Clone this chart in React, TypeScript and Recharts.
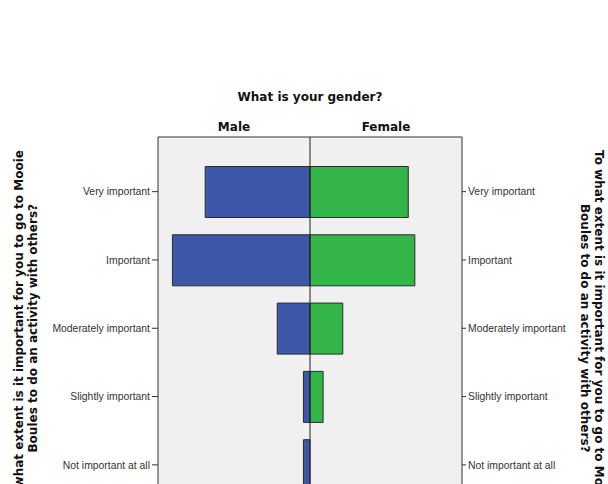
import React from 'react';
import { BarChart, Bar, XAxis, YAxis, ReferenceLine, CartesianGrid } from 'recharts';

const categories = [
  'Very important',
  'Important',
  'Moderately important',
  'Slightly important',
  'Not important at all',
];
const maleCounts = [16, 21, 5, 1, 1];
const femaleCounts = [15, 16, 5, 2, 0];
const genders = ['Male', 'Female'];
const chartTitle = 'What is your gender?';
const axisTitleLines = [
  'To what extent is it important for you to go to Mooie',
  'Boules to do an activity with others?',
];
const countAxisMax = 23.2;

const data = categories.map((name, i) => ({
  name,
  male: -maleCounts[i],
  female: femaleCounts[i],
}));

const boldFont = { fontFamily: 'DejaVu Sans', fontWeight: 700, fontSize: 12, fill: '#111' };
const tickFont = { fontFamily: 'Liberation Sans', fontSize: 10.4, fill: '#333' };

const LeftTitle = (props: any) => {
  const vb = props.viewBox || {};
  const cy = vb.y + vb.height / 2;
  const x1 = vb.x + 23;
  const x2 = vb.x + 37;
  return (
    <g>
      <text x={x1} y={cy} textAnchor="middle" transform={`rotate(-90, ${x1}, ${cy})`} style={boldFont}>
        {axisTitleLines[0]}
      </text>
      <text x={x2} y={cy} textAnchor="middle" transform={`rotate(-90, ${x2}, ${cy})`} style={boldFont}>
        {axisTitleLines[1]}
      </text>
    </g>
  );
};

const RightTitle = (props: any) => {
  const vb = props.viewBox || {};
  const cy = vb.y + vb.height / 2;
  const x1 = vb.x + 133;
  const x2 = vb.x + 119;
  return (
    <g>
      <text x={x1} y={cy} textAnchor="middle" transform={`rotate(90, ${x1}, ${cy})`} style={boldFont}>
        {axisTitleLines[0]}
      </text>
      <text x={x2} y={cy} textAnchor="middle" transform={`rotate(90, ${x2}, ${cy})`} style={boldFont}>
        {axisTitleLines[1]}
      </text>
    </g>
  );
};

const TopTitle = (props: any) => {
  const vb = props.viewBox || {};
  const cx = vb.x + vb.width / 2;
  return (
    <text x={cx} y={vb.y - 6} textAnchor="middle" style={boldFont}>
      {chartTitle}
    </text>
  );
};

export default function App() {
  return (
    <div
      style={{
        position: 'fixed',
        left: 0,
        top: 0,
        width: 608,
        height: 484,
        overflow: 'hidden',
        background: '#fff',
      }}
    >
      <BarChart
        width={608}
        height={540}
        data={data}
        layout="vertical"
        stackOffset="sign"
        margin={{ top: 107, right: 0, bottom: 20.5, left: 0 }}
      >
        <CartesianGrid fill="#F0F0F0" horizontal={false} vertical={false} />
        <XAxis
          type="number"
          orientation="top"
          domain={[-countAxisMax, countAxisMax]}
          ticks={[-countAxisMax / 2, countAxisMax / 2]}
          tickFormatter={(v: number) => (v < 0 ? genders[0] : genders[1])}
          height={30}
          tickLine={false}
          tickSize={0}
          tickMargin={6}
          axisLine={{ stroke: '#333' }}
          tick={boldFont}
          label={{ content: <TopTitle /> }}
        />
        <YAxis
          yAxisId="left"
          type="category"
          dataKey="name"
          orientation="left"
          width={158}
          padding={{ top: 20.5, bottom: 20.5 }}
          tickSize={6}
          tickMargin={2}
          axisLine={{ stroke: '#333' }}
          tickLine={{ stroke: '#333' }}
          tick={tickFont}
          interval={0}
          label={{ content: <LeftTitle /> }}
        />
        <YAxis
          yAxisId="right"
          type="category"
          dataKey="name"
          orientation="right"
          width={146}
          padding={{ top: 20.5, bottom: 20.5 }}
          tickSize={4}
          tickMargin={2}
          axisLine={{ stroke: '#333' }}
          tickLine={{ stroke: '#333' }}
          tick={tickFont}
          interval={0}
          label={{ content: <RightTitle /> }}
        />
        <Bar
          yAxisId="left"
          dataKey="male"
          stackId="g"
          barSize={51}
          fill="#3F57A8"
          stroke="#2a2a2a"
          strokeWidth={1}
          isAnimationActive={false}
        />
        <Bar
          yAxisId="left"
          dataKey="female"
          stackId="g"
          barSize={51}
          fill="#34B54A"
          stroke="#2a2a2a"
          strokeWidth={1}
          isAnimationActive={false}
        />
        <ReferenceLine yAxisId="left" x={0} stroke="#222" strokeWidth={1} />
      </BarChart>
    </div>
  );
}
